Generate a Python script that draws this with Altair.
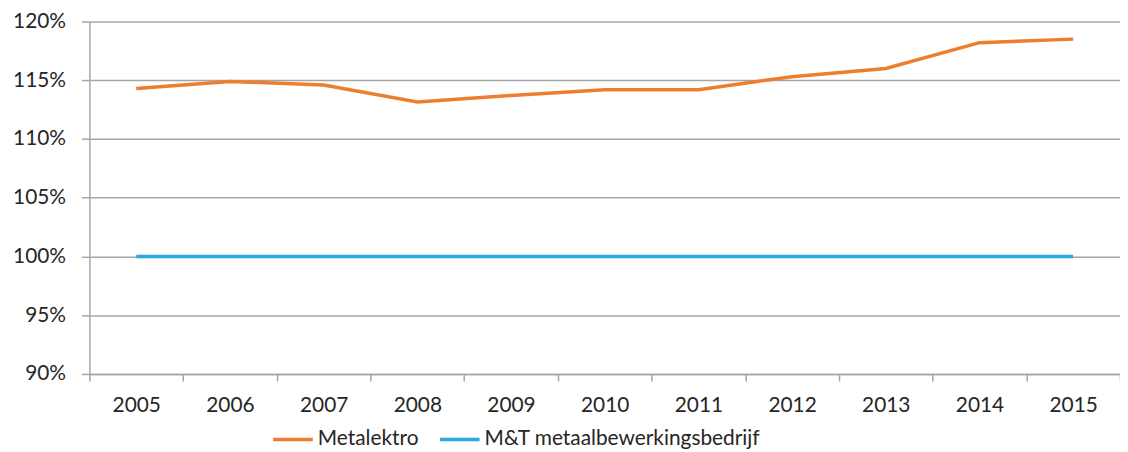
import altair as alt
import pandas as pd

years = ["2005", "2006", "2007", "2008", "2009", "2010", "2011", "2012", "2013", "2014", "2015"]
metalektro = [114.3, 114.9, 114.6, 113.15, 113.7, 114.2, 114.2, 115.3, 116.0, 118.2, 118.5]
mt = [100, 100, 100, 100, 100, 100, 100, 100, 100, 100, 100]
series = ["Metalektro", "M&T metaalbewerkingsbedrijf"]
colors = ["#ED7D31", "#2AA9E0"]

rows = []
for y, a, b in zip(years, metalektro, mt):
    rows.append({"year": y, "series": series[0], "value": a / 100})
    rows.append({"year": y, "series": series[1], "value": b / 100})
df = pd.DataFrame(rows)

FONT = "Lato"
GRID = "#A6A6A6"
TEXT = "#262626"

chart = alt.Chart(df).mark_line(strokeWidth=3.5).encode(
    x=alt.X("year:O", bandPosition=0.5,
            scale=alt.Scale(type="band", paddingInner=0, paddingOuter=0),
            axis=alt.Axis(title=None, labelAngle=0, tickBand="extent", grid=False,
                          domainColor=GRID, domainWidth=1.5, tickColor=GRID, tickWidth=1.5,
                          tickSize=7, labelPadding=14, labelFontSize=21, labelFont=FONT,
                          labelColor=TEXT)),
    y=alt.Y("value:Q",
            scale=alt.Scale(domain=[0.9, 1.2], nice=False, zero=False),
            axis=alt.Axis(title=None, format=".0%", values=[0.9, 0.95, 1.0, 1.05, 1.1, 1.15, 1.2],
                          grid=True, gridColor=GRID, gridWidth=1.5,
                          domainColor=GRID, domainWidth=1.5, tickColor=GRID, tickWidth=1.5,
                          tickSize=8, labelPadding=16, labelFontSize=21, labelFont=FONT,
                          labelColor=TEXT)),
    color=alt.Color("series:N",
                    scale=alt.Scale(domain=series, range=colors),
                    legend=alt.Legend(title=None, orient="none", legendX=183, legendY=399,
                                      direction="horizontal", symbolType="stroke",
                                      symbolSize=1600, symbolStrokeWidth=3.5,
                                      labelFontSize=21, labelFont=FONT, labelColor=TEXT,
                                      labelLimit=0, labelOffset=3, columnPadding=14, padding=0)),
).properties(
    width=1038,
    height=355,
    autosize=alt.AutoSizeParams(type="none"),
    padding={"left": 82, "top": 12, "right": 0, "bottom": 77},
).configure_view(stroke=None)

chart.save("out.html", embed_options={"renderer": "svg", "actions": False})
